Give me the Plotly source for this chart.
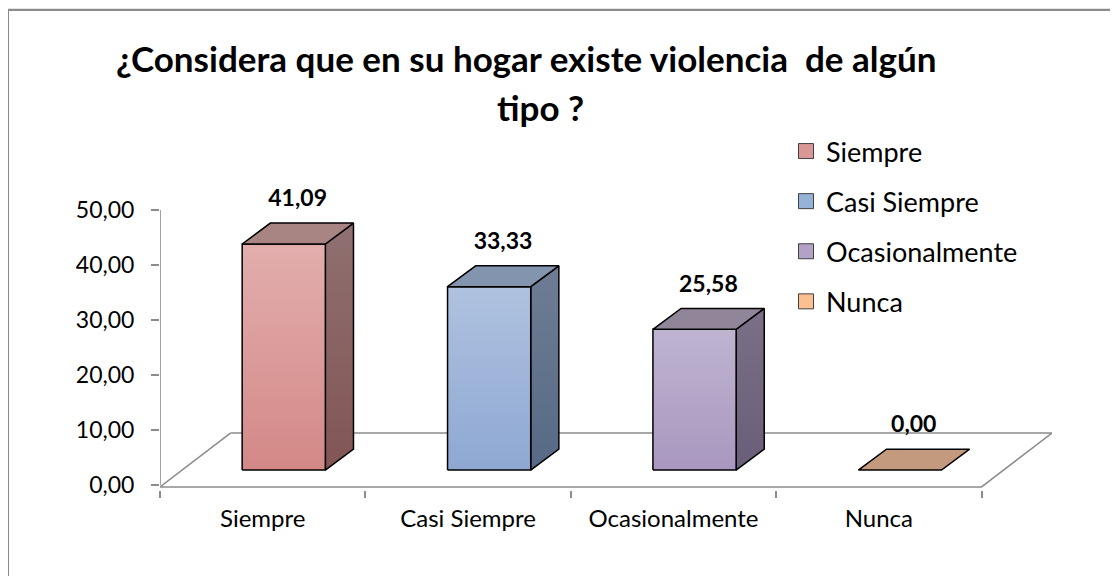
import plotly.graph_objects as go

# ---------------- data ----------------
categories = ["Siempre", "Casi Siempre", "Ocasionalmente", "Nunca"]
values = [41.09, 33.33, 25.58, 0.00]
y_ticks = [0, 10, 20, 30, 40, 50]
title_line1 = "¿Considera que en su hogar existe violencia\u00a0 de algún"
title_line2 = "tipo ?"

# ---------------- style ----------------
legend_colors = ["#D99795", "#95B3D7", "#B3A2C7", "#FAC090"]
front_top = ["#E2AEAD", "#AFC2DF", "#BEB4D0", "#F6C8A8"]
front_bot = ["#D38887", "#8EA8D3", "#A997BF", "#E8A87C"]
side_top = ["#8F7070", "#6E7D94", "#7B7087", "#A88468"]
side_bot = ["#835555", "#576985", "#6A5D79", "#94705A"]
top_col = ["#A88483", "#8294AE", "#918599", "#C49A7E"]
AXIS_GRAY = "#8C8C8C"
FONT = "Lato"

# geometry (data units)
BAR_X0 = -0.10      # left edge of front face relative to category centre
BAR_W = 0.405       # front face width
BASE = 2.73         # front face base elevation
DX, DY = 0.137, 3.8 # bar depth projection
FL_DX, FL_DY, FL_Y0 = 0.343, 9.45, -0.35  # floor projection
LABEL_DX, LABEL_DY = 0.17, 4.1
Y_MIN, Y_MAX = -0.9, 54.0

# page geometry (the page body adds an 8px margin)
OFF = 8
W, H = 1118, 576
ML, MR, MT, MB = 152, 74, 180, 94
PW, PH = W - ML - MR, H - MT - MB


def px(x):
    """page pixel x -> paper fraction"""
    return (x - OFF - ML) / PW


def py(y):
    """page pixel y -> paper fraction"""
    return (H - MB - (y - OFF)) / PH


fig = go.Figure()

n = len(categories)
# floor outline
x_left, x_right = -0.5, n - 0.5
fig.add_trace(go.Scatter(
    x=[x_left + FL_DX, x_left, x_right, x_right + FL_DX, x_left + FL_DX],
    y=[FL_DY, FL_Y0, FL_Y0, FL_DY, FL_DY],
    mode="lines", line=dict(color=AXIS_GRAY, width=1.6),
    showlegend=False, hoverinfo="skip"))
# y axis line
fig.add_trace(go.Scatter(
    x=[x_left, x_left], y=[y_ticks[0], y_ticks[-1]],
    mode="lines", line=dict(color=AXIS_GRAY, width=1.6),
    showlegend=False, hoverinfo="skip"))

for i, v in enumerate(values):
    xl = i + BAR_X0
    xr = xl + BAR_W
    b = BASE
    t = BASE + v
    outline = dict(color="#000000", width=1.5)
    if v > 0:
        # side face
        fig.add_trace(go.Scatter(
            x=[xr, xr + DX, xr + DX, xr, xr], y=[b, b + DY, t + DY, t, b],
            fill="toself", mode="lines", line=outline,
            fillgradient=dict(type="vertical",
                              colorscale=[[0, side_bot[i]], [1, side_top[i]]]),
            showlegend=False, hoverinfo="skip"))
        # front face
        fig.add_trace(go.Scatter(
            x=[xl, xr, xr, xl, xl], y=[b, b, t, t, b],
            fill="toself", mode="lines", line=outline,
            fillgradient=dict(type="vertical",
                              colorscale=[[0, front_bot[i]], [1, front_top[i]]]),
            showlegend=False, hoverinfo="skip"))
    # top face
    fig.add_trace(go.Scatter(
        x=[xl, xl + DX, xr + DX, xr, xl], y=[t, t + DY, t + DY, t, t],
        fill="toself", mode="lines", line=outline, fillcolor=top_col[i],
        showlegend=False, hoverinfo="skip"))

# data labels
fig.add_trace(go.Scatter(
    x=[i + LABEL_DX for i in range(n)],
    y=[v + BASE + DY + LABEL_DY for v in values],
    mode="text",
    text=[f"{v:.2f}".replace(".", ",") for v in values],
    textfont=dict(family=FONT, size=23, color="#000000", weight="bold"),
    cliponaxis=False, showlegend=False, hoverinfo="skip"))

# legend entries
for i, c in enumerate(categories):
    fig.add_trace(go.Scatter(
        x=[None], y=[None], name=c, legendgroup=c, mode="markers",
        marker=dict(symbol="square", size=15, color=legend_colors[i],
                    line=dict(color="#404040", width=1))))

# title
fig.add_annotation(x=px(526), y=py(58), xref="paper", yref="paper",
                   xanchor="center", yanchor="middle",
                   text=title_line1, showarrow=False,
                   font=dict(family=FONT, size=35, color="#000000", weight="bold"))
fig.add_annotation(x=px(540), y=py(107), xref="paper", yref="paper",
                   xanchor="center", yanchor="middle",
                   text=title_line2, showarrow=False,
                   font=dict(family=FONT, size=35, color="#000000", weight="bold"))

# chart frame
fig.add_shape(type="line", xref="paper", yref="paper",
              x0=px(8), x1=px(1140), y0=py(7), y1=py(7),
              line=dict(color="#E4E4E4", width=4))
fig.add_shape(type="rect", xref="paper", yref="paper",
              x0=px(8), x1=px(1140), y0=py(620), y1=py(10),
              line=dict(color="#8C8C8C", width=2), fillcolor="rgba(0,0,0,0)")

fig.update_layout(
    width=W, height=H,
    margin=dict(l=ML, r=MR, t=MT, b=MB),
    paper_bgcolor="white", plot_bgcolor="white",
    font=dict(family=FONT, color="#000000"),
    separators=",.",
    showlegend=True,
    legend=dict(x=px(786), y=py(127), xanchor="left", yanchor="top",
                font=dict(family=FONT, size=27, color="#000000"),
                traceorder="grouped", tracegroupgap=12, itemwidth=30,
                bgcolor="rgba(0,0,0,0)", itemclick=False),
    xaxis=dict(range=[x_left, x_right + FL_DX], showgrid=False, zeroline=False,
               showline=False, tickvals=list(range(n)), ticktext=categories,
               ticks="", tickfont=dict(family=FONT, size=24),
               ticklabelstandoff=12,
               minor=dict(tickvals=[k - 0.5 for k in range(n + 1)],
                          ticks="outside", ticklen=7, tickcolor=AXIS_GRAY,
                          tickwidth=1.5, showgrid=False)),
    yaxis=dict(range=[Y_MIN, Y_MAX], showgrid=False, zeroline=False,
               showline=False, tickvals=y_ticks,
               ticktext=[f"{t:.2f}".replace(".", ",") for t in y_ticks],
               ticks="outside", ticklen=8, tickcolor=AXIS_GRAY, tickwidth=1.5,
               tickfont=dict(family=FONT, size=23), ticklabelstandoff=12),
)

fig.write_html("out.html")
